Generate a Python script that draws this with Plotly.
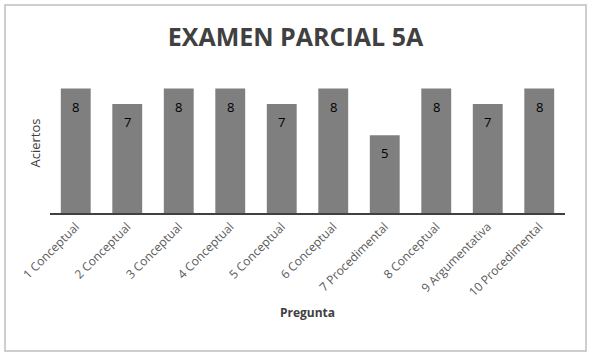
import plotly.graph_objects as go

categorias = ["1 Conceptual", "2 Conceptual", "3 Conceptual", "4 Conceptual", "5 Conceptual",
              "6 Conceptual", "7 Procedimental", "8 Conceptual", "9 Argumentativa", "10 Procedimental"]
aciertos = [8, 7, 8, 8, 7, 8, 5, 8, 7, 8]

fig = go.Figure(go.Bar(
    x=categorias, y=aciertos,
    marker=dict(color="#7f7f7f", line=dict(width=0)),
    cliponaxis=False, hoverinfo="x+y",
))

for c, v in zip(categorias, aciertos):
    fig.add_annotation(x=c, y=v, text=str(v), showarrow=False, yshift=-18,
                       font=dict(family="Open Sans", size=13, color="#000000"))

fig.update_layout(
    width=591, height=358,
    margin=dict(l=50, r=26, t=73, b=145, autoexpand=False),
    paper_bgcolor="white", plot_bgcolor="white",
    bargap=0.42,
    showlegend=False,
    title=dict(text="<b>EXAMEN PARCIAL 5A</b>", x=0.5, xanchor="center", y=0.895, yanchor="middle",
               font=dict(family="Open Sans", size=25, color="#404040")),
    xaxis=dict(tickangle=-45, tickfont=dict(family="Open Sans", size=12, color="#595959"),
               showline=True, linecolor="#404040", linewidth=2, ticks="", showgrid=False,
               automargin=False,
               title=dict(text="<b>Pregunta</b>", font=dict(family="Open Sans", size=12, color="#404040"),
                          standoff=10)),
    yaxis=dict(range=[0, 9], showticklabels=False, showgrid=False, zeroline=False, ticks="",
               automargin=False,
               title=dict(text="Aciertos", font=dict(family="Open Sans", size=13, color="#404040"),
                          standoff=5)),
    shapes=[dict(type="rect", xref="paper", yref="paper", x0=-0.0874, x1=1.0408, y0=-0.986, y1=1.486,
                 line=dict(color="#bfbfbf", width=1.5), fillcolor="rgba(0,0,0,0)", layer="below")],
)

fig.write_html("out.html", config={"displayModeBar": False},
               post_script="document.body.style.margin='0';document.body.style.overflow='hidden';")
